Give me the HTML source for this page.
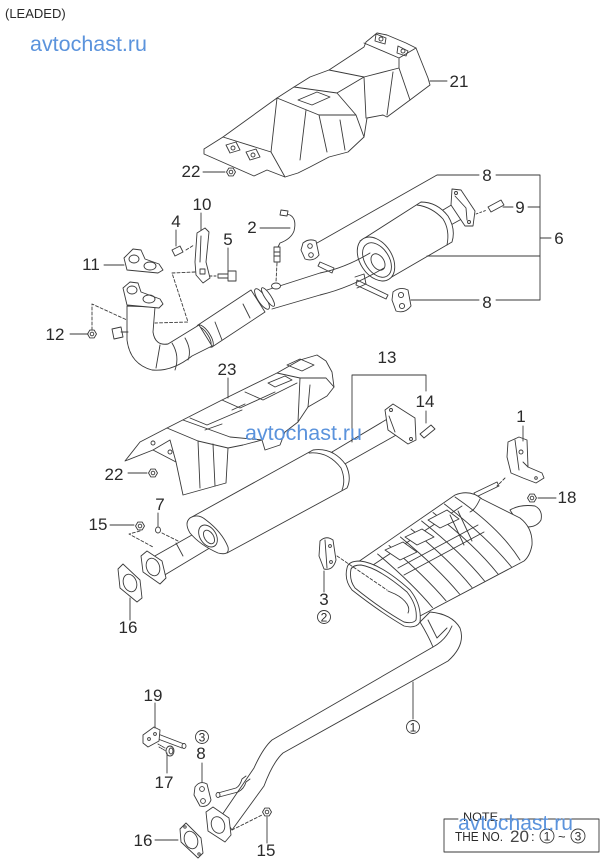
<!DOCTYPE html>
<html><head><meta charset="utf-8">
<style>
html,body{margin:0;padding:0;background:#fff;}
svg{display:block}
text{font-family:"Liberation Sans",Arial,sans-serif;fill:#2a2a2a;stroke:none}
.l{font-size:17px}
.c{font-size:12px}
.wm{font-size:21px;fill:#5b93dc}
</style></head><body>
<svg width="607" height="866" viewBox="0 0 607 866" xmlns="http://www.w3.org/2000/svg">
<rect width="607" height="866" fill="#fff"/>
<text x="5" y="18" style="font-size:13px">(LEADED)</text>

<g fill="none" stroke="#3a3a3a" stroke-width="0.9" stroke-linejoin="round" stroke-linecap="round">

<!-- ===== Heat shield 21 ===== -->
<path fill="#fff" d="M204,149 L204,154 L254,176 L267,170 L285,177 L298,173 L310,167 L329,157 L348,152 L364,137 L367,118 L383,115 L387,117 L410,100 L430,85 L428,78 L416,48 L406,43 L387,35 L377,33 L366,42 L364,47 L329,70 L310,77 L294,87 L277,98 L223,137 Z"/>
<path d="M223,137 L271,152 L285,177 M277,98 L271,152 M277,98 L319,115 L327,152 M294,87 L337,93 L356,115 L364,137 M319,115 L356,115 M298,100 L317,92 L330,97 L312,105 Z M329,70 L364,77 L399,68 L410,100 M364,43 L399,58 L416,48 M399,58 L399,68 M393,72 L387,115 M364,77 L366,118 M337,93 L364,77 M306,110 L300,160 M340,120 L345,150"/>
<path d="M226,145 L236,142 L240,150 L230,153 Z M246,152 L256,149 L260,157 L250,160 Z"/>
<circle cx="233" cy="148" r="2"/><circle cx="253" cy="155" r="2"/>
<path d="M376,34 L386,38 L385,44 L375,41 Z M398,46 L408,51 L406,56 L397,53 Z"/>
<circle cx="381" cy="39" r="2"/><circle cx="403" cy="51" r="2"/>
<!-- nut 22 top -->
<polygon fill="#fff" points="235.5,172 233.2,175.9 228.8,175.9 226.5,172 228.8,168.1 233.2,168.1"/>
<circle cx="231" cy="172" r="1.8"/>
<path d="M203,172 L225,172"/>

<!-- ===== Top assembly ===== -->
<!-- outlet pipe + flange -->
<path fill="#fff" d="M438,213 L458,201 L467,216 L449,226 Z"/>
<path fill="#fff" d="M452,189 L461,190 L475,211 L473,226 L465,226 L451,205 Z"/>
<circle cx="456" cy="193" r="1.5"/><circle cx="469" cy="222" r="1.5"/>
<path d="M455,196 L466,208 L467,220"/>
<!-- muffler 6 body -->
<path fill="#fff" d="M360,241 L421,202 Q437,202 448,216 Q456,229 452,242 L390,278 Z"/>
<path d="M417,205 Q432,207 443,219 Q450,230 447,245"/>
<ellipse fill="#fff" cx="376" cy="259" rx="16" ry="24" transform="rotate(-33 376 259)"/>
<ellipse cx="377" cy="260" rx="12" ry="19" transform="rotate(-33 377 260)"/>
<ellipse cx="378" cy="262" rx="6" ry="9" transform="rotate(-33 378 262)"/>
<!-- hanger rods -->
<path fill="#fff" d="M320,262 L334,268 L332,273 L318,266 Z"/>
<path fill="#fff" d="M357,280 L388,295 L386,299 L356,285 Z"/>
<path d="M355,277 L364,274 L366,284 L357,288"/>
<!-- pipe 6 -->
<path d="M267,290 L320,273 Q345,268 370,253"/>
<path d="M272,309 L320,295 Q350,288 384,268"/>
<!-- converter -->
<path fill="#fff" d="M198,325 L251,290 L265,312 L212,347 Z"/>
<path d="M215,322 L222,340 M243,304 L250,318"/>
<ellipse fill="#fff" cx="205" cy="336" rx="5" ry="13" transform="rotate(-33.5 205 336)"/>
<ellipse cx="205" cy="336" rx="3" ry="10" transform="rotate(-33.5 205 336)"/>
<ellipse fill="#fff" cx="262" cy="299" rx="4" ry="12" transform="rotate(-33.5 262 299)"/>
<ellipse fill="#fff" cx="268" cy="297" rx="3" ry="11" transform="rotate(-33.5 268 297)"/>
<!-- downpipe elbow -->
<path fill="#fff" d="M127,306 L127,340 Q130,364 152,370 Q172,372 192,356 L212,346 L199,325 L168,344 Q155,346 153,332 L155,307 Z"/>
<path d="M160,345 L156,368 M172,343 Q180,356 175,370 M185,338 Q192,350 188,360"/>
<path fill="#fff" d="M112,329 L121,327 L123,337 L114,339 Z"/>
<path d="M121,332 L128,332"/>
<!-- flange -->
<path fill="#fff" d="M123,288 L130,282 L138,283 L141,292 L160,299 L163,304 L159,308 L127,305 Z"/>
<ellipse cx="132" cy="290" rx="5" ry="4"/><ellipse cx="149" cy="299" rx="6" ry="4"/>
<!-- gasket 11 -->
<path fill="#fff" d="M124,258 L133,249 L141,250 L145,259 L159,264 L163,270 L158,273 L127,270 Z"/>
<ellipse cx="134" cy="259" rx="5" ry="4"/><ellipse cx="150" cy="266" rx="6" ry="4"/>
<!-- bracket 10 -->
<path fill="#fff" d="M197,233 L205,228 L209,232 L206,262 L210,278 L203,283 L196,275 L195,262 Z"/>
<path d="M201,236 L200,262"/>
<rect x="200" y="269" width="5" height="5"/>
<!-- bolt 4 -->
<path fill="#fff" d="M172,250 L180,246 L183,252 L175,256 Z"/>
<path d="M186,250 L194,245" stroke-dasharray="3,2"/>
<!-- bolt 5 -->
<path fill="#fff" d="M218,274 L228,274 L228,278 L218,278 Z M228,271 L236,271 L236,281 L228,281 Z"/>
<path d="M210,276 L217,276" stroke-dasharray="2,2"/>
<!-- dashed lines -->
<path stroke-dasharray="3,2" d="M195,272 L172,273 L188,322 L155,323 M92,330 L92,304 L127,320"/>
<!-- nut 12 -->
<polygon fill="#fff" points="96.5,334 94.2,337.9 89.8,337.9 87.5,334 89.8,330.1 94.2,330.1"/>
<circle cx="92" cy="334" r="1.8"/>
<!-- sensor 2 -->
<path d="M286,214 L290,215 Q297,219 294,231 Q291,239 280,243 L278,247"/>
<path fill="#fff" d="M281,210 L288,211 L287,216 L280,215 Z"/>
<path fill="#fff" d="M274,247 L280,247 L280,262 L274,262 Z"/>
<path d="M274,252 L280,252 M274,256 L280,256"/>
<path d="M277,263 L276,282" stroke-dasharray="3,2"/>
<ellipse fill="#fff" cx="276" cy="286" rx="4.5" ry="3"/>
<!-- rubber hangers 8 -->
<path fill="#fff" d="M303,243 Q309,238 316,241 L319,255 Q314,262 305,259 L301,250 Z"/>
<circle cx="310" cy="246" r="2.3"/><circle cx="311" cy="255" r="2.3"/>
<path fill="#fff" d="M393,292 Q400,286 408,290 L411,306 Q405,314 396,311 L392,300 Z"/>
<circle cx="401" cy="295" r="2.6"/><circle cx="402" cy="306" r="2.6"/>
<!-- bolt 9 -->
<path fill="#fff" d="M488,207 L501,200 L504,205 L491,212 Z"/>
<path d="M476,214 L487,210" stroke-dasharray="2,2"/>
<!-- leaders top -->
<path d="M317,243 L437,175 L479,175 M496,175 L540,175 L540,300 L496,300 M479,300 L411,300 M503,207 L513,207 M528,207 L540,207 M540,238 L551,238 M427,256 L540,256"/>
<path d="M260,228 L290,228 M201,213 L201,230 M176,230 L176,246 M228,248 L228,271 M104,265 L124,265 M70,334 L88,334 M430,81 L447,81"/>

<!-- ===== Heat shield 23 ===== -->
<path fill="#fff" d="M125,461 L140,442 L167,428 L222,400 L277,373 L300,360 L317,355 L326,361 L332,372 L334,387 L327,396 L308,407 L298,422 L285,432 L280,445 L265,450 L262,440 L243,445 L228,448 L226,483 L183,495 L176,462 L153,450 Z"/>
<path d="M153,450 L170,440 L176,462 M167,428 L198,441 L228,448 M183,420 L230,437 L262,440 M198,441 L200,488 M213,444 L215,486 M190,418 L207,425 L242,410 M222,400 L240,408 L275,392 M245,392 L263,400 L297,383 M277,373 L300,378 L326,378 L334,387 M300,378 L298,422 M268,383 L285,376 L292,380 L275,387 Z M287,365 L302,371 L314,365 L300,359 Z M232,410 L245,404 M205,430 L222,424 M308,407 L310,385"/>
<circle cx="153" cy="443" r="2"/><circle cx="170" cy="452" r="2"/>
<!-- nut 22 low -->
<polygon fill="#fff" points="157.5,473 155.2,476.9 150.8,476.9 148.5,473 150.8,469.1 155.2,469.1"/>
<circle cx="153" cy="473" r="1.8"/>
<path d="M128,473 L147,473 M228,378 L228,398"/>

<!-- ===== Center pipe 13 ===== -->
<path fill="#fff" d="M389,418 L332,452 L343,465 L398,434 Z"/>
<path fill="#fff" d="M385,410 L393,404 L415,418 L416,440 L408,444 L388,430 Z"/>
<circle cx="391" cy="410" r="1.5"/><circle cx="411" cy="439" r="1.5"/>
<path d="M389,416 L395,432"/>
<path fill="#fff" d="M190,518 L313,450 Q333,447 346,465 Q352,478 347,488 L227,553 Z"/>
<path d="M309,453 Q328,451 341,468 Q346,480 342,490"/>
<!-- pipe out -->
<path fill="#fff" d="M199,531 L153,557 L163,576 L213,546 Z"/>
<path d="M176,543 L183,556"/>
<path fill="#fff" d="M190,518 Q198,513 206,520 Q222,532 228,547 Q230,556 218,553 Q200,545 190,533 Q184,523 190,518 Z"/>
<ellipse fill="#fff" cx="208" cy="536" rx="8" ry="12" transform="rotate(-33 208 536)"/>
<ellipse cx="209" cy="537" rx="4.5" ry="7.5" transform="rotate(-33 209 537)"/>
<!-- flange -->
<path fill="#fff" d="M141,556 L147,551 L162,561 L166,578 L160,584 L143,572 Z"/>
<ellipse cx="153" cy="567" rx="6.5" ry="9" transform="rotate(-20 153 567)"/>
<!-- gasket 16 upper -->
<path fill="#fff" d="M118,569 L123,564 L140,580 L142,598 L137,602 L120,588 Z"/>
<ellipse cx="130" cy="583" rx="6.5" ry="9" transform="rotate(-20 130 583)"/>
<!-- pin 7, nut 15 -->
<ellipse fill="#fff" cx="158" cy="530" rx="2.5" ry="3"/>
<path stroke-dasharray="3,2" d="M162,533 L178,541 M140,531 L129,534 L153,547"/>
<polygon fill="#fff" points="144.5,526 142.2,529.9 137.8,529.9 135.5,526 137.8,522.1 142.2,522.1"/>
<circle cx="140" cy="526" r="1.8"/>
<!-- bolt 14 -->
<path fill="#fff" d="M420,434 L431,425 L435,429 L424,438 Z"/>
<!-- leaders -->
<path d="M352,442 L352,375 L426,375 L426,391 M426,411 L426,423 M110,525 L134,525 M158,513 L158,526 M130,598 L130,620"/>

<!-- ===== Lower pipe 1 ===== -->
<path fill="#fff" d="M420,622 Q428,635 433,647 L272,740 Q263,748 254,768 L222,815 L232,830 L264,786 Q273,762 283,753 L448,661 Q466,645 460,628 Q452,614 430,612 Z"/>
<path d="M428,620 L437,638 L447,628 M433,647 Q446,640 452,626"/>
<!-- flange low -->
<path fill="#fff" d="M206,812 L213,807 L229,818 L231,835 L225,842 L208,831 Z"/>
<ellipse cx="218" cy="825" rx="6.5" ry="8.5" transform="rotate(-20 218 825)"/>
<!-- gasket 16 low -->
<path fill="#fff" d="M180,829 L186,823 L201,838 L203,853 L198,858 L181,842 Z"/>
<ellipse cx="191" cy="840" rx="6.5" ry="9" transform="rotate(-20 191 840)"/>
<circle cx="185" cy="827" r="1.2"/><circle cx="199" cy="854" r="1.2"/>
<path stroke-dasharray="3,2" d="M232,830 L262,815"/>
<polygon fill="#fff" points="271.5,812 269.2,815.9 264.8,815.9 262.5,812 264.8,808.1 269.2,808.1"/>
<circle cx="267" cy="812" r="1.8"/>
<!-- hanger rod on pipe -->
<path d="M218,793 L236,788 Q240,786 242,779 L246,776 M219,797 L238,792 Q244,789 246,782 L250,779"/>
<ellipse fill="#fff" cx="218" cy="795" rx="2" ry="2.5"/>
<!-- rubber 8 low -->
<path fill="#fff" d="M195,787 Q200,780 207,784 L211,800 Q208,808 200,806 L194,795 Z"/>
<circle cx="202" cy="789" r="2.4"/><circle cx="203" cy="801" r="2.4"/>
<!-- bracket 19 -->
<path fill="#fff" d="M158,734 L184,744 L182,748 L158,739 Z"/>
<ellipse fill="#fff" cx="184" cy="746" rx="2" ry="2.5"/>
<path fill="#fff" d="M143,735 L154,727 L160,730 L159,741 L148,747 L143,743 Z"/>
<circle cx="149" cy="739" r="1.4"/><circle cx="155" cy="734" r="1.4"/>
<!-- bolt 17 -->
<path d="M158,744 L165,748 M159,747 L166,751" stroke-dasharray="1.5,1"/>
<ellipse fill="#fff" cx="170" cy="751" rx="4" ry="5"/>
<ellipse cx="171" cy="751" rx="2" ry="3"/>
<!-- leaders -->
<path d="M155,840 L178,840 M155,703 L155,728 M167,753 L167,773 M202,763 L202,782 M413,682 L413,719 M267,817 L267,843"/>

<!-- ===== Rear muffler ===== -->
<path fill="#fff" d="M510,510 Q520,504 535,506 Q543,510 541,520 Q537,527 527,527 Q517,522 510,510 Z"/>
<path fill="#fff" d="M474,493 L497,482 L499,486 L476,497 Z"/>
<path fill="#fff" d="M358,562 L455,495 Q470,489 482,499 L520,518 Q533,528 532,545 Q530,556 524,561 L420,616 Z"/>
<path d="M370,567 L462,506 M480,499 Q475,510 470,512"/>
<path d="M377.6,554 Q413,584 432.5,607.6 M389,545.5 Q425,576 446,600.8 M400.4,537 Q438,568 459.5,594 M411,529 Q450,560 472,587.5 M421.6,521 Q462,553 484.5,581 M433,512.5 Q475,545 498,574 M444.4,504 Q488,538 511.5,567 M455,497 Q500,528 520,560"/>
<path fill="#fff" d="M385,550 L403,542 L417,552 L400,560 Z"/>
<path fill="#fff" d="M405,537 L422,529 L434,537 L417,545 Z"/>
<path fill="#fff" d="M428,520 L447,510 L459,519 L440,528 Z"/>
<path d="M398,568 L478,525 M404,575 L484,532 M450,515 L464,545 M458,511 L472,541"/>
<!-- front face -->
<path fill="#fff" d="M347,568 Q348,561 360,561 Q380,563 410,590 Q422,605 420,622 Q416,629 404,626 Q380,612 352,590 Q344,580 347,568 Z"/>
<path d="M351,569 Q353,565 361,565 Q379,568 407,592 Q418,606 416,620 Q413,624 404,622 Q381,609 355,588 Q349,580 351,569 Z"/>
<path d="M388,591 L395,594 Q403,598 407,604 Q410,609 408,613"/>
<!-- hanger 3 -->
<path stroke-dasharray="3,2" d="M337,556 L387,590"/>
<path fill="#fff" d="M320,541 Q326,535 333,540 L336,560 Q333,571 324,569 L319,556 Z"/>
<path d="M325,540 L327,568"/>
<circle cx="330" cy="546" r="1.4"/><circle cx="331" cy="562" r="1.4"/>
<path d="M324,571 L324,592"/>
<!-- hanger 1 -->
<path fill="#fff" d="M508,442 L519,437 L527,440 L528,467 L542,473 L544,478 L536,483 L523,478 L511,473 L507,457 Z"/>
<path d="M515,440 L519,470 M523,462 L528,467"/>
<circle cx="521" cy="452" r="2"/><circle cx="536" cy="478" r="1.3"/>
<path stroke-dasharray="3,2" d="M505,478 L497,486"/>
<path d="M523,426 L523,441"/>
<polygon fill="#fff" points="536.5,498 534.2,501.9 529.8,501.9 527.5,498 529.8,494.1 534.2,494.1"/>
<circle cx="532" cy="498" r="1.8"/>
<path d="M538,498 L556,498"/>

<!-- circled numbers -->
<circle fill="#fff" cx="324" cy="617" r="6.5"/>
<circle fill="#fff" cx="202" cy="737" r="6.5"/>
<circle fill="#fff" cx="413" cy="727" r="6.5"/>

<!-- NOTE box -->
<path d="M458,819 L444,819 L444,852 L599,852 L599,819 L500,819"/>
<circle cx="547" cy="836" r="7"/>
<circle cx="578" cy="836" r="7"/>
</g>

<!-- labels -->
<g class="l" text-anchor="middle">
<text x="459" y="87">21</text>
<text x="191" y="177">22</text>
<text x="487" y="181">8</text>
<text x="520" y="213">9</text>
<text x="559" y="244">6</text>
<text x="487" y="308">8</text>
<text x="202" y="210">10</text>
<text x="176" y="227">4</text>
<text x="252" y="233">2</text>
<text x="228" y="245">5</text>
<text x="91" y="270">11</text>
<text x="55" y="340">12</text>
<text x="227" y="375">23</text>
<text x="387" y="363">13</text>
<text x="425" y="407">14</text>
<text x="521" y="422">1</text>
<text x="114" y="480">22</text>
<text x="567" y="503">18</text>
<text x="160" y="510">7</text>
<text x="98" y="530">15</text>
<text x="128" y="633">16</text>
<text x="324" y="605">3</text>
<text x="153" y="701">19</text>
<text x="201" y="759">8</text>
<text x="164" y="788">17</text>
<text x="143" y="846">16</text>
<text x="266" y="856">15</text>
</g>
<g class="c" text-anchor="middle">
<text x="324" y="621.5">2</text>
<text x="202" y="741.5">3</text>
<text x="413" y="731.5">1</text>
<text x="547" y="840.5">1</text>
<text x="578" y="840.5">3</text>
</g>
<text x="463" y="821" style="font-size:12px" textLength="35" lengthAdjust="spacingAndGlyphs">NOTE</text>
<text x="455" y="841" style="font-size:12.5px" textLength="48" lengthAdjust="spacingAndGlyphs">THE NO.</text>
<text x="510" y="842" style="font-size:17px;fill:#444" textLength="19" lengthAdjust="spacingAndGlyphs">20</text>
<text x="531" y="841" style="font-size:13px">:</text>
<text x="558" y="841" style="font-size:13px">~</text>

<!-- watermarks -->
<text class="wm" x="30" y="51" textLength="117" lengthAdjust="spacingAndGlyphs">avtochast.ru</text>
<text class="wm" x="245" y="440" textLength="117" lengthAdjust="spacingAndGlyphs">avtochast.ru</text>
<text class="wm" x="458" y="830" textLength="115" lengthAdjust="spacingAndGlyphs">avtochast.ru</text>
</svg>
</body></html>
